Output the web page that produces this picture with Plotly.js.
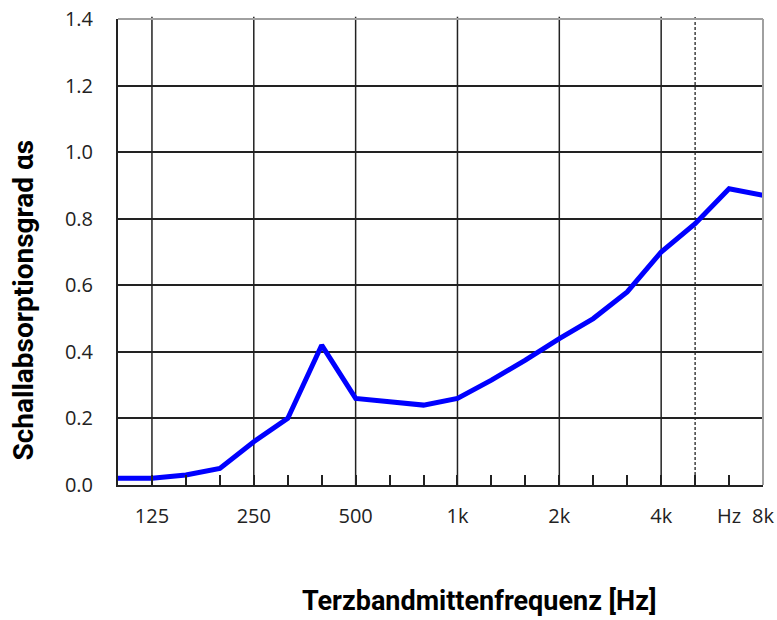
<!DOCTYPE html>
<html>
<head>
<meta charset="utf-8">
<script src="https://cdn.plot.ly/plotly-3.0.1.min.js"></script>
<style>html,body{margin:0;padding:0;background:#fff;}#chart{width:777px;height:620px;}</style>
</head>
<body>
<div id="chart"></div>
<script>
// Third-octave band centre frequencies (Hz)
const bands = ['100','125','160','200','250','315','400','500','630','800','1000','1250','1600','2000','2500','3150','4000','5000','6300','8000'];
// Sound absorption coefficient alpha_s per band
const alphaS = [0.02,0.02,0.03,0.05,0.13,0.20,0.42,0.26,0.25,0.24,0.26,0.315,0.375,0.44,0.50,0.58,0.70,0.785,0.89,0.87];
// Tick labels shown under the bands
const tickText = ['','125','','','250','','','500','','','1k','','','2k','','','4k','','Hz','8k'];
// Bands with solid vertical grid lines, and the dashed one
const solidGridBands = ['125','250','500','1000','2000','4000'];
const dashedGridBands = ['5000'];
const yTicks = [0,0.2,0.4,0.6,0.8,1.0,1.2,1.4];

const shapes = [];
solidGridBands.forEach(b => { const i = bands.indexOf(b); shapes.push({type:'line', xref:'x', yref:'paper', x0:i, x1:i, y0:0, y1:1.005, line:{color:'#222', width:1.5}, layer:'below'}); });
dashedGridBands.forEach(b => { const i = bands.indexOf(b); shapes.push({type:'line', xref:'x', yref:'paper', x0:i, x1:i, y0:0, y1:1.005, line:{color:'#222', width:1.3, dash:'3px,2px'}, layer:'below'}); });
shapes.push({type:'line', xref:'paper', yref:'paper', x0:0, x1:1, y0:1, y1:1, line:{color:'#a0a0a0', width:2}, layer:'above'});
shapes.push({type:'line', xref:'paper', yref:'paper', x0:1, x1:1, y0:0, y1:1, line:{color:'#a0a0a0', width:2}, layer:'above'});

const trace = { x: bands, y: alphaS, type:'scatter', mode:'lines', line:{color:'#0000ff', width:5}, hoverinfo:'skip' };
// invisible copy that only carries the band categories for the tick-mark axis
const tickCarrier = { x: bands, y: alphaS, xaxis:'x2', type:'scatter', mode:'lines', line:{width:0}, opacity:0, hoverinfo:'skip', showlegend:false };

const layout = {
  width:777, height:620,
  margin:{l:118, r:14, t:19, b:135},
  paper_bgcolor:'#fff', plot_bgcolor:'#fff',
  showlegend:false,
  font:{family:'"Open Sans", "DejaVu Sans", sans-serif', color:'#222', size:20},
  xaxis:{ type:'category', range:[0, bands.length-1], tickmode:'array', tickvals:bands, ticktext:tickText,
    ticks:'', showgrid:false, zeroline:false,
    showline:true, linecolor:'#222', linewidth:2, ticklabelstandoff:12,
    tickfont:{size:20, color:'#222'} },
  xaxis2:{ type:'category', overlaying:'x', anchor:'y', side:'bottom', range:[0, bands.length-1],
    tickmode:'array', tickvals:bands, showticklabels:false,
    ticks:'inside', ticklen:10, tickwidth:1.5, tickcolor:'#222',
    showgrid:false, zeroline:false, showline:false },
  yaxis:{ range:[0,1.4], tickmode:'array', tickvals:yTicks, tickformat:'.1f', showgrid:true, gridcolor:'#222', gridwidth:1.5,
    zeroline:false, showline:true, linecolor:'#222', linewidth:2, ticks:'', ticklabelstandoff:19,
    tickfont:{size:20, color:'#222'} },
  shapes: shapes,
  annotations:[
    {text:'<b>Terzbandmittenfrequenz [Hz]</b>', xref:'paper', yref:'paper', x:0.56, y:-0.249, xanchor:'center', yanchor:'middle', showarrow:false, font:{family:'Roboto', size:27, color:'#000'}},
    {text:'<b>Schallabsorptionsgrad αs</b>', xref:'paper', yref:'paper', x:-0.145, y:0.397, xanchor:'center', yanchor:'middle', textangle:-90, showarrow:false, font:{family:'Roboto', size:28, color:'#000'}}
  ]
};

Plotly.newPlot('chart', [tickCarrier, trace], layout, {displayModeBar:false});
</script>
</body>
</html>
